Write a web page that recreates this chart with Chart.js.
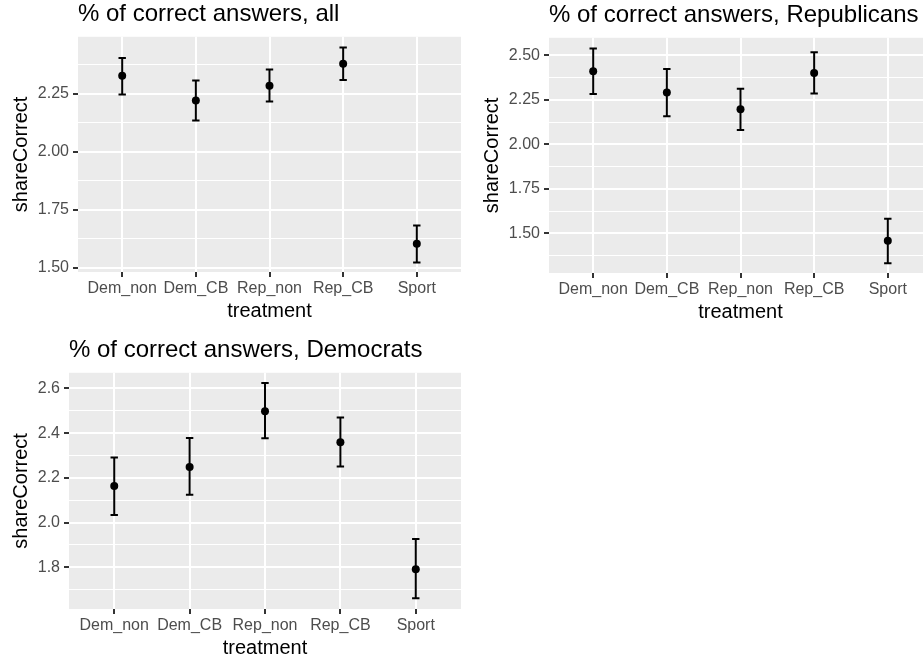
<!DOCTYPE html>
<html>
<head>
<meta charset="utf-8">
<script src="https://cdn.jsdelivr.net/npm/chart.js@4"></script>
<style>
  body { margin: 0; background: #fff; overflow: hidden; width: 923px; height: 661px; position: relative; }
  canvas { position: absolute; }
</style>
</head>
<body>
<canvas id="chartAll" width="470" height="330" style="left:0;top:0"></canvas>
<canvas id="chartRep" width="470" height="330" style="left:471px;top:1px"></canvas>
<canvas id="chartDem" width="470" height="331" style="left:0;top:336px"></canvas>
<script>
const treatments = ["Dem_non", "Dem_CB", "Rep_non", "Rep_CB", "Sport"];

// all respondents
const allMean = [2.328, 2.221, 2.285, 2.380, 1.603];
const allLo = [2.247, 2.135, 2.217, 2.310, 1.523];
const allHi = [2.405, 2.307, 2.355, 2.450, 1.682];

// republicans
const repMean = [2.410, 2.291, 2.197, 2.400, 1.459];
const repLo = [2.282, 2.158, 2.080, 2.285, 1.333];
const repHi = [2.538, 2.423, 2.312, 2.517, 1.583];

// democrats
const demMean = [2.163, 2.249, 2.498, 2.359, 1.791];
const demLo = [2.034, 2.124, 2.377, 2.251, 1.661];
const demHi = [2.291, 2.378, 2.624, 2.470, 1.926];

// y ticks
const allTicks = [1.5, 1.75, 2.0, 2.25];
const allTickLabels = ["1.50", "1.75", "2.00", "2.25"];
const allMinor = [1.625, 1.875, 2.125, 2.375];
const repTicks = [1.5, 1.75, 2.0, 2.25, 2.5];
const repTickLabels = ["1.50", "1.75", "2.00", "2.25", "2.50"];
const repMinor = [1.375, 1.625, 1.875, 2.125, 2.375];
const demTicks = [1.8, 2.0, 2.2, 2.4, 2.6];
const demTickLabels = ["1.8", "2.0", "2.2", "2.4", "2.6"];
const demMinor = [1.7, 1.9, 2.1, 2.3, 2.5];

const FONT = "'Liberation Sans', Arial, Helvetica, sans-serif";

// grey panel behind the grid
const panelBg = {
  id: "panelBg",
  beforeDraw(chart) {
    const { ctx, chartArea: a } = chart;
    ctx.save();
    ctx.fillStyle = "#EBEBEB";
    ctx.fillRect(a.left, a.top, a.right - a.left, a.bottom - a.top);
    ctx.restore();
  }
};

function makeChart(id, title, mean, lo, hi, yMin, yMax, ticks, tickLabels, minor, yWidth) {
  const bars = treatments.map((t, i) => ({
    type: "line",
    data: [{ x: i, y: lo[i] }, { x: i, y: hi[i] }],
    borderColor: "#000",
    borderWidth: 2,
    pointRadius: 0,
    showLine: true
  }));
  const caps = {
    type: "scatter",
    data: treatments.flatMap((t, i) => [{ x: i, y: lo[i] }, { x: i, y: hi[i] }]),
    pointStyle: "line",
    pointRadius: 3.7,
    borderColor: "#000",
    borderWidth: 2
  };
  const points = {
    type: "scatter",
    data: treatments.map((t, i) => ({ x: i, y: mean[i] })),
    pointStyle: "circle",
    pointRadius: 4,
    backgroundColor: "#000",
    borderWidth: 0
  };

  return new Chart(document.getElementById(id), {
    type: "scatter",
    data: { datasets: [points, caps, ...bars] },
    options: {
      responsive: false,
      animation: false,
      events: [],
      layout: { padding: { right: 9 } },
      plugins: {
        legend: { display: false },
        tooltip: { enabled: false },
        title: {
          display: true,
          text: title,
          align: "start",
          fullSize: false,
          color: "#000",
          font: { family: FONT, size: 24, weight: "normal" },
          padding: { top: 0, bottom: 8 }
        }
      },
      scales: {
        x: {
          type: "linear",
          min: -0.6,
          max: 4.6,
          afterBuildTicks: s => { s.ticks = treatments.map((t, i) => ({ value: i })); },
          afterFit: s => { s.height = 58; },
          border: { display: false },
          grid: { color: "#fff", lineWidth: 2, tickLength: 5, tickColor: "#333", tickWidth: 2 },
          ticks: {
            autoSkip: false,
            maxRotation: 0,
            minRotation: 0,
            padding: 2,
            color: "#4D4D4D",
            font: { family: FONT, size: 16 },
            callback: v => treatments[v]
          },
          title: {
            display: true,
            text: "treatment",
            color: "#000",
            font: { family: FONT, size: 20 },
            padding: { top: 0, bottom: 7 }
          }
        },
        y: {
          min: yMin,
          max: yMax,
          afterBuildTicks: s => {
            s.ticks = ticks.concat(minor).sort((a, b) => a - b).map(v => ({ value: v }));
          },
          afterFit: s => { s.width = yWidth; },
          border: { display: false },
          grid: {
            color: "#fff",
            lineWidth: c => (minor.includes(c.tick.value) ? 1 : 2),
            tickLength: 5,
            tickColor: c => (minor.includes(c.tick.value) ? "rgba(0,0,0,0)" : "#333"),
            tickWidth: 2
          },
          ticks: {
            padding: 4,
            color: "#4D4D4D",
            font: { family: FONT, size: 16 },
            callback: v => {
              const k = ticks.indexOf(v);
              return k >= 0 ? tickLabels[k] : "";
            }
          },
          title: {
            display: true,
            text: "shareCorrect",
            color: "#000",
            font: { family: FONT, size: 20 },
            padding: { top: 9, bottom: 0 }
          }
        }
      }
    },
    plugins: [panelBg]
  });
}

makeChart("chartAll", "% of correct answers, all", allMean, allLo, allHi,
  1.4815, 2.496, allTicks, allTickLabels, allMinor, 78);
makeChart("chartRep", "% of correct answers, Republicans", repMean, repLo, repHi,
  1.278, 2.598, repTicks, repTickLabels, repMinor, 78);
makeChart("chartDem", "% of correct answers, Democrats", demMean, demLo, demHi,
  1.613, 2.67, demTicks, demTickLabels, demMinor, 69);
</script>
</body>
</html>
